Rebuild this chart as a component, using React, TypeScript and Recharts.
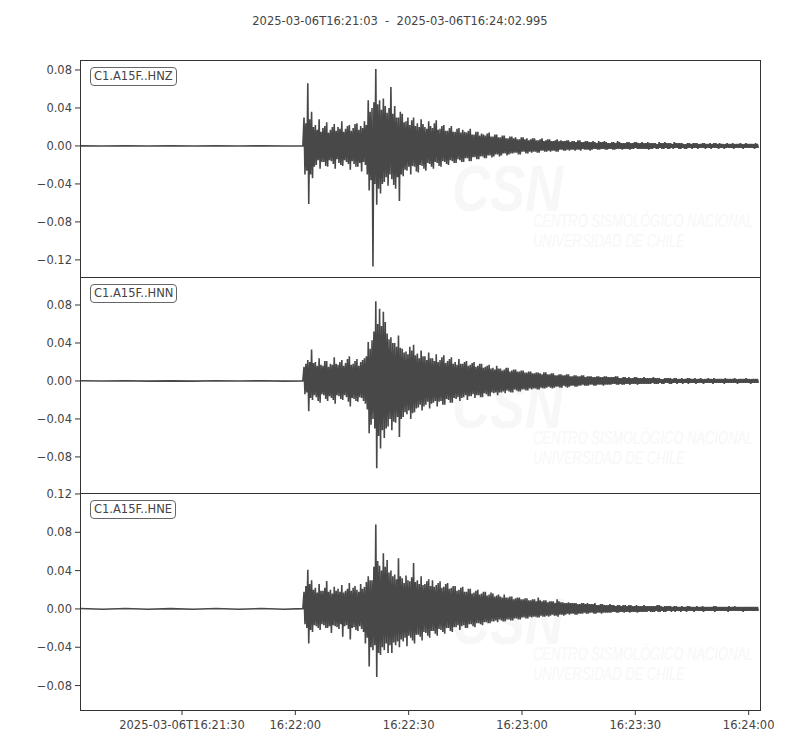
import { Line, LineChart, XAxis, YAxis } from "recharts"

// seconds after 2025-03-06T16:21:03
const xTicks = [27, 57, 87, 117, 147, 177]
const xTickLabels = ["2025-03-06T16:21:30", "16:22:00", "16:22:30", "16:23:00", "16:23:30", "16:24:00"]

const preTimes = [0, 6, 12, 18, 24, 30, 36, 42, 48, 54, 59]
const onsetSec = 59.3
const sampleStep = 0.5 // one positive and one negative swing per step

const hnzPre = [0.0001, -0.0001, 0.0001, -0.0001, 0.0001, -0.0001, 0.0001, -0.0001, 0.0001, -0.0001, 0.0001]
const hnzUp = [
  0.030, 0.024, 0.066, 0.028, 0.036, 0.020, 0.022, 0.017, 0.028, 0.015, 0.019, 0.021, 0.025, 0.014, 0.017, 0.020, 0.023, 0.016, 0.020, 0.018,
  0.026, 0.015, 0.018, 0.021, 0.022, 0.016, 0.019, 0.023, 0.024, 0.017, 0.021, 0.019, 0.026, 0.022, 0.048, 0.036, 0.040, 0.046, 0.081, 0.044,
  0.048, 0.038, 0.050, 0.042, 0.035, 0.040, 0.062, 0.034, 0.042, 0.030, 0.030, 0.036, 0.034, 0.025, 0.026, 0.030, 0.022, 0.027, 0.030, 0.021,
  0.024, 0.020, 0.028, 0.023, 0.020, 0.018, 0.026, 0.021, 0.019, 0.024, 0.027, 0.017, 0.018, 0.021, 0.022, 0.016, 0.016, 0.019, 0.021, 0.015,
  0.015, 0.018, 0.019, 0.014, 0.017, 0.015, 0.014, 0.016, 0.018, 0.012, 0.012, 0.015, 0.015, 0.011, 0.013, 0.012, 0.011, 0.013, 0.014, 0.010,
  0.010, 0.012, 0.012, 0.009, 0.009, 0.011, 0.011, 0.008, 0.008, 0.010, 0.010, 0.008, 0.009, 0.007, 0.007, 0.009, 0.009, 0.007, 0.008, 0.006,
  0.007, 0.008, 0.008, 0.006, 0.006, 0.007, 0.008, 0.005, 0.006, 0.007, 0.007, 0.005, 0.005, 0.006, 0.007, 0.005, 0.006, 0.005, 0.005, 0.006,
  0.006, 0.004, 0.005, 0.005, 0.004, 0.006, 0.006, 0.004, 0.004, 0.005, 0.005, 0.004, 0.004, 0.005, 0.004, 0.003, 0.005, 0.004, 0.004, 0.005,
  0.004, 0.003, 0.003, 0.004, 0.004, 0.003, 0.005, 0.004, 0.003, 0.003, 0.003, 0.004, 0.004, 0.003, 0.003, 0.004, 0.004, 0.003, 0.003, 0.004,
  0.003, 0.003, 0.004, 0.003, 0.003, 0.003, 0.003, 0.002, 0.004, 0.003, 0.003, 0.004, 0.003, 0.003, 0.003, 0.002, 0.004, 0.003, 0.003, 0.003,
  0.003, 0.002, 0.002, 0.003, 0.003, 0.002, 0.003, 0.003, 0.003, 0.002, 0.002, 0.003, 0.003, 0.002, 0.002, 0.003, 0.002, 0.003, 0.003, 0.002,
  0.003, 0.002, 0.002, 0.002, 0.003, 0.002, 0.002, 0.003, 0.002, 0.002, 0.002, 0.003, 0.002, 0.002, 0.003, 0.002, 0.002, 0.002, 0.002, 0.003,
  0.002,
]
const hnzDown = [
  -0.030, -0.026, -0.061, -0.030, -0.034, -0.022, -0.020, -0.015, -0.024, -0.017, -0.017, -0.021, -0.022, -0.015, -0.016, -0.019, -0.024, -0.014, -0.018, -0.020,
  -0.021, -0.015, -0.017, -0.019, -0.025, -0.016, -0.019, -0.022, -0.022, -0.018, -0.027, -0.017, -0.020, -0.030, -0.047, -0.036, -0.127, -0.040, -0.062, -0.045,
  -0.050, -0.040, -0.038, -0.033, -0.042, -0.030, -0.035, -0.041, -0.045, -0.033, -0.058, -0.030, -0.032, -0.025, -0.026, -0.022, -0.030, -0.021, -0.022, -0.027,
  -0.028, -0.020, -0.021, -0.024, -0.026, -0.018, -0.019, -0.022, -0.024, -0.017, -0.018, -0.021, -0.022, -0.016, -0.017, -0.019, -0.020, -0.015, -0.016, -0.018,
  -0.018, -0.014, -0.015, -0.017, -0.017, -0.013, -0.013, -0.016, -0.016, -0.012, -0.012, -0.014, -0.014, -0.011, -0.011, -0.013, -0.013, -0.010, -0.010, -0.012,
  -0.011, -0.009, -0.009, -0.011, -0.010, -0.008, -0.008, -0.010, -0.009, -0.008, -0.008, -0.007, -0.007, -0.009, -0.009, -0.006, -0.006, -0.008, -0.008, -0.006,
  -0.007, -0.006, -0.006, -0.007, -0.007, -0.005, -0.005, -0.006, -0.006, -0.005, -0.006, -0.005, -0.005, -0.006, -0.006, -0.004, -0.004, -0.005, -0.005, -0.004,
  -0.005, -0.004, -0.004, -0.005, -0.004, -0.004, -0.005, -0.003, -0.004, -0.004, -0.004, -0.005, -0.004, -0.003, -0.003, -0.004, -0.004, -0.003, -0.003, -0.004,
  -0.004, -0.003, -0.003, -0.004, -0.004, -0.003, -0.003, -0.003, -0.004, -0.003, -0.003, -0.003, -0.004, -0.003, -0.003, -0.002, -0.003, -0.003, -0.003, -0.003,
  -0.003, -0.003, -0.004, -0.003, -0.003, -0.002, -0.003, -0.003, -0.002, -0.003, -0.003, -0.002, -0.003, -0.003, -0.002, -0.003, -0.002, -0.002, -0.003, -0.003,
  -0.002, -0.003, -0.003, -0.002, -0.002, -0.003, -0.002, -0.002, -0.003, -0.002, -0.002, -0.002, -0.003, -0.002, -0.002, -0.003, -0.002, -0.002, -0.002, -0.003,
  -0.002, -0.002, -0.003, -0.002, -0.002, -0.002, -0.002, -0.003, -0.002, -0.002, -0.002, -0.002, -0.003, -0.002, -0.002, -0.002, -0.002, -0.002, -0.003, -0.002,
  -0.002,
]

const hnnPre = [0.0002, -0.0001, 0.0002, -0.0002, 0.0001, -0.0002, 0.0002, -0.0001, 0.0002, -0.0002, 0.0001]
const hnnUp = [
  0.015, 0.018, 0.022, 0.020, 0.033, 0.019, 0.020, 0.016, 0.024, 0.017, 0.016, 0.021, 0.021, 0.015, 0.018, 0.017, 0.025, 0.018, 0.017, 0.020,
  0.022, 0.016, 0.019, 0.023, 0.026, 0.017, 0.018, 0.021, 0.023, 0.016, 0.020, 0.022, 0.024, 0.026, 0.041, 0.034, 0.043, 0.052, 0.084, 0.060,
  0.076, 0.058, 0.073, 0.062, 0.050, 0.044, 0.046, 0.040, 0.040, 0.036, 0.048, 0.035, 0.034, 0.030, 0.031, 0.028, 0.036, 0.032, 0.038, 0.027,
  0.029, 0.024, 0.032, 0.026, 0.026, 0.022, 0.030, 0.024, 0.024, 0.021, 0.028, 0.020, 0.022, 0.025, 0.027, 0.019, 0.021, 0.023, 0.025, 0.018,
  0.020, 0.017, 0.023, 0.018, 0.018, 0.020, 0.021, 0.016, 0.017, 0.019, 0.020, 0.015, 0.016, 0.018, 0.018, 0.014, 0.015, 0.016, 0.017, 0.013,
  0.014, 0.012, 0.016, 0.013, 0.013, 0.011, 0.012, 0.014, 0.014, 0.010, 0.011, 0.012, 0.012, 0.010, 0.010, 0.011, 0.011, 0.009, 0.009, 0.010,
  0.010, 0.008, 0.008, 0.009, 0.009, 0.008, 0.007, 0.009, 0.009, 0.007, 0.007, 0.008, 0.008, 0.006, 0.006, 0.007, 0.007, 0.006, 0.006, 0.007,
  0.007, 0.005, 0.005, 0.006, 0.006, 0.005, 0.005, 0.006, 0.006, 0.004, 0.005, 0.005, 0.005, 0.004, 0.004, 0.005, 0.005, 0.004, 0.004, 0.005,
  0.005, 0.004, 0.004, 0.004, 0.004, 0.005, 0.005, 0.003, 0.003, 0.004, 0.004, 0.003, 0.004, 0.003, 0.003, 0.004, 0.004, 0.003, 0.003, 0.003,
  0.004, 0.003, 0.003, 0.003, 0.003, 0.004, 0.003, 0.003, 0.003, 0.002, 0.002, 0.003, 0.003, 0.003, 0.003, 0.002, 0.003, 0.003, 0.002, 0.002,
  0.003, 0.002, 0.002, 0.003, 0.003, 0.002, 0.002, 0.003, 0.002, 0.002, 0.003, 0.002, 0.002, 0.002, 0.003, 0.002, 0.002, 0.003, 0.002, 0.002,
  0.002, 0.002, 0.002, 0.003, 0.002, 0.002, 0.002, 0.002, 0.003, 0.002, 0.002, 0.002, 0.002, 0.002, 0.003, 0.002, 0.002, 0.002, 0.002, 0.002,
  0.002,
]
const hnnDown = [
  -0.014, -0.012, -0.032, -0.018, -0.020, -0.015, -0.017, -0.021, -0.023, -0.014, -0.015, -0.019, -0.021, -0.016, -0.018, -0.020, -0.024, -0.015, -0.016, -0.019,
  -0.020, -0.015, -0.017, -0.022, -0.027, -0.018, -0.019, -0.021, -0.022, -0.017, -0.018, -0.021, -0.024, -0.030, -0.055, -0.046, -0.040, -0.050, -0.092, -0.058,
  -0.071, -0.052, -0.060, -0.050, -0.048, -0.040, -0.052, -0.043, -0.044, -0.038, -0.059, -0.040, -0.038, -0.033, -0.035, -0.031, -0.040, -0.034, -0.033, -0.029,
  -0.028, -0.025, -0.031, -0.027, -0.025, -0.022, -0.029, -0.024, -0.023, -0.021, -0.027, -0.022, -0.021, -0.025, -0.025, -0.019, -0.020, -0.023, -0.023, -0.018,
  -0.019, -0.017, -0.021, -0.018, -0.017, -0.015, -0.020, -0.016, -0.016, -0.014, -0.018, -0.015, -0.015, -0.017, -0.017, -0.013, -0.014, -0.016, -0.016, -0.012,
  -0.013, -0.012, -0.015, -0.012, -0.012, -0.011, -0.013, -0.010, -0.011, -0.012, -0.012, -0.009, -0.010, -0.011, -0.011, -0.009, -0.009, -0.010, -0.010, -0.008,
  -0.009, -0.008, -0.008, -0.009, -0.009, -0.007, -0.008, -0.008, -0.007, -0.006, -0.007, -0.008, -0.007, -0.006, -0.006, -0.007, -0.007, -0.005, -0.006, -0.007,
  -0.006, -0.005, -0.005, -0.006, -0.006, -0.005, -0.005, -0.004, -0.005, -0.005, -0.005, -0.004, -0.004, -0.005, -0.005, -0.004, -0.004, -0.004, -0.005, -0.004,
  -0.004, -0.004, -0.004, -0.003, -0.003, -0.004, -0.004, -0.003, -0.004, -0.004, -0.003, -0.003, -0.004, -0.003, -0.003, -0.003, -0.004, -0.003, -0.003, -0.003,
  -0.003, -0.003, -0.003, -0.003, -0.002, -0.003, -0.003, -0.003, -0.002, -0.003, -0.003, -0.002, -0.002, -0.003, -0.003, -0.002, -0.002, -0.003, -0.002, -0.002,
  -0.003, -0.002, -0.002, -0.003, -0.002, -0.002, -0.002, -0.003, -0.002, -0.002, -0.002, -0.003, -0.002, -0.002, -0.002, -0.002, -0.003, -0.002, -0.002, -0.002,
  -0.002, -0.002, -0.003, -0.002, -0.002, -0.002, -0.002, -0.002, -0.002, -0.003, -0.002, -0.002, -0.002, -0.002, -0.002, -0.002, -0.003, -0.002, -0.002, -0.002,
  -0.002,
]

const hnePre = [0.0004, -0.0003, 0.0004, -0.0004, 0.0003, -0.0004, 0.0004, -0.0003, 0.0004, -0.0004, 0.0003]
const hneUp = [
  0.018, 0.024, 0.041, 0.026, 0.030, 0.020, 0.022, 0.017, 0.026, 0.019, 0.019, 0.022, 0.029, 0.018, 0.020, 0.016, 0.023, 0.019, 0.021, 0.018,
  0.025, 0.017, 0.019, 0.021, 0.027, 0.019, 0.022, 0.024, 0.020, 0.018, 0.026, 0.021, 0.023, 0.028, 0.034, 0.030, 0.030, 0.044, 0.088, 0.050,
  0.045, 0.040, 0.058, 0.044, 0.051, 0.038, 0.040, 0.034, 0.036, 0.031, 0.053, 0.034, 0.032, 0.027, 0.035, 0.030, 0.029, 0.033, 0.048, 0.028,
  0.030, 0.026, 0.034, 0.025, 0.026, 0.029, 0.031, 0.024, 0.030, 0.023, 0.025, 0.027, 0.029, 0.022, 0.023, 0.026, 0.027, 0.021, 0.022, 0.024,
  0.024, 0.019, 0.020, 0.022, 0.023, 0.018, 0.018, 0.021, 0.021, 0.016, 0.017, 0.019, 0.020, 0.015, 0.016, 0.018, 0.018, 0.014, 0.015, 0.017,
  0.016, 0.013, 0.014, 0.015, 0.013, 0.012, 0.015, 0.012, 0.012, 0.013, 0.013, 0.010, 0.011, 0.012, 0.012, 0.010, 0.010, 0.011, 0.011, 0.009,
  0.009, 0.010, 0.010, 0.008, 0.012, 0.009, 0.008, 0.009, 0.009, 0.007, 0.008, 0.008, 0.008, 0.006, 0.010, 0.008, 0.007, 0.007, 0.006, 0.006,
  0.007, 0.006, 0.006, 0.006, 0.006, 0.005, 0.005, 0.006, 0.006, 0.005, 0.006, 0.005, 0.005, 0.005, 0.006, 0.004, 0.004, 0.005, 0.005, 0.004,
  0.004, 0.004, 0.005, 0.004, 0.004, 0.003, 0.004, 0.004, 0.003, 0.004, 0.004, 0.003, 0.004, 0.004, 0.003, 0.003, 0.004, 0.003, 0.003, 0.003,
  0.004, 0.003, 0.003, 0.003, 0.003, 0.003, 0.003, 0.004, 0.004, 0.003, 0.002, 0.003, 0.003, 0.003, 0.003, 0.002, 0.003, 0.003, 0.002, 0.002,
  0.003, 0.002, 0.002, 0.003, 0.003, 0.002, 0.002, 0.002, 0.003, 0.002, 0.002, 0.003, 0.002, 0.002, 0.002, 0.002, 0.002, 0.003, 0.003, 0.002,
  0.002, 0.002, 0.002, 0.002, 0.002, 0.003, 0.002, 0.002, 0.003, 0.002, 0.002, 0.002, 0.002, 0.002, 0.002, 0.002, 0.002, 0.002, 0.002, 0.002,
  0.002,
]
const hneDown = [
  -0.016, -0.020, -0.036, -0.022, -0.024, -0.017, -0.018, -0.020, -0.022, -0.016, -0.017, -0.020, -0.020, -0.018, -0.025, -0.017, -0.018, -0.019, -0.021, -0.016,
  -0.029, -0.018, -0.017, -0.021, -0.032, -0.020, -0.019, -0.022, -0.023, -0.018, -0.021, -0.024, -0.036, -0.030, -0.060, -0.040, -0.043, -0.038, -0.071, -0.046,
  -0.048, -0.040, -0.043, -0.036, -0.046, -0.038, -0.046, -0.035, -0.038, -0.034, -0.040, -0.032, -0.034, -0.030, -0.039, -0.028, -0.030, -0.033, -0.036, -0.027,
  -0.027, -0.029, -0.033, -0.024, -0.025, -0.028, -0.030, -0.023, -0.023, -0.026, -0.028, -0.021, -0.022, -0.024, -0.026, -0.020, -0.020, -0.023, -0.024, -0.019,
  -0.019, -0.017, -0.022, -0.018, -0.017, -0.020, -0.020, -0.016, -0.016, -0.018, -0.019, -0.015, -0.015, -0.016, -0.017, -0.014, -0.014, -0.015, -0.015, -0.013,
  -0.013, -0.012, -0.014, -0.011, -0.012, -0.013, -0.013, -0.011, -0.011, -0.012, -0.012, -0.010, -0.010, -0.011, -0.011, -0.009, -0.009, -0.010, -0.010, -0.008,
  -0.009, -0.008, -0.008, -0.009, -0.009, -0.007, -0.008, -0.008, -0.007, -0.008, -0.007, -0.006, -0.007, -0.007, -0.008, -0.006, -0.006, -0.007, -0.006, -0.005,
  -0.006, -0.005, -0.005, -0.006, -0.006, -0.005, -0.005, -0.005, -0.004, -0.005, -0.005, -0.004, -0.004, -0.005, -0.005, -0.004, -0.004, -0.005, -0.004, -0.004,
  -0.004, -0.004, -0.004, -0.003, -0.003, -0.004, -0.004, -0.003, -0.003, -0.004, -0.003, -0.003, -0.004, -0.003, -0.003, -0.003, -0.004, -0.003, -0.003, -0.003,
  -0.003, -0.003, -0.002, -0.003, -0.003, -0.003, -0.002, -0.003, -0.003, -0.002, -0.003, -0.003, -0.002, -0.002, -0.003, -0.002, -0.003, -0.002, -0.002, -0.003,
  -0.002, -0.002, -0.003, -0.002, -0.002, -0.002, -0.003, -0.002, -0.002, -0.002, -0.002, -0.003, -0.002, -0.002, -0.002, -0.002, -0.002, -0.003, -0.002, -0.002,
  -0.002, -0.002, -0.002, -0.002, -0.003, -0.002, -0.002, -0.002, -0.002, -0.002, -0.002, -0.002, -0.003, -0.002, -0.002, -0.002, -0.002, -0.002, -0.002, -0.002,
  -0.002,
]

const FONT = "'DejaVu Sans', sans-serif"
const INK = "#444444"
const TRACE = "#484848"
const PAD = 10

function buildTrace(pre: number[], up: number[], down: number[]) {
  const pts = preTimes.map((t, k) => ({ t, v: pre[k] }))
  up.forEach((u, i) => {
    const t = onsetSec + i * sampleStep
    pts.push({ t, v: u })
    pts.push({ t: t + sampleStep / 2, v: down[i] })
  })
  return pts
}

const panels = [
  { label: "C1.A15F..HNZ", top: 60, height: 217, domain: [-0.138, 0.0905], ticks: [-0.12, -0.08, -0.04, 0, 0.04, 0.08], data: buildTrace(hnzPre, hnzUp, hnzDown) },
  { label: "C1.A15F..HNN", top: 277, height: 216, domain: [-0.118, 0.1095], ticks: [-0.08, -0.04, 0, 0.04, 0.08], data: buildTrace(hnnPre, hnnUp, hnnDown) },
  { label: "C1.A15F..HNE", top: 493, height: 217, domain: [-0.1055, 0.121], ticks: [-0.08, -0.04, 0, 0.04, 0.08, 0.12], data: buildTrace(hnePre, hneUp, hneDown) },
]

const fmtY = (v: number) => (v < 0 ? "\u2212" : "") + Math.abs(v).toFixed(2)
const fmtX = (v: number) => xTickLabels[xTicks.indexOf(v)] ?? ""

function Watermark({ top }: { top: number }) {
  const c = "#f7f7f7"
  return (
    <>
      <div style={{ position: "absolute", left: 452, top: top + 92, fontSize: 64, fontWeight: 700, fontStyle: "italic", color: c, fontFamily: "'Liberation Sans', sans-serif", transform: "scaleX(0.82)", transformOrigin: "left top" }}>
        CSN
      </div>
      <div style={{ position: "absolute", left: 533, top: top + 151, fontSize: 18, fontStyle: "italic", color: c, fontFamily: "'Liberation Sans', sans-serif", lineHeight: "20px", whiteSpace: "nowrap", transform: "scaleX(0.72)", transformOrigin: "left top" }}>
        CENTRO SISMOLÓGICO NACIONAL
        <br />
        UNIVERSIDAD DE CHILE
      </div>
    </>
  )
}

function Panel({ p, last }: { p: (typeof panels)[number]; last: boolean }) {
  const axisH = last ? 34 : 0
  return (
    <>
      <Watermark top={p.top} />
      <div style={{ position: "absolute", left: 0, top: p.top - PAD }}>
        <LineChart width={800} height={p.height + axisH + PAD * 2} data={p.data} margin={{ top: PAD, right: 40, bottom: PAD, left: 0 }}>
          <XAxis
            type="number"
            dataKey="t"
            domain={[0, 180]}
            ticks={xTicks}
            tickFormatter={fmtX}
            hide={!last}
            height={axisH}
            axisLine={false}
            tickLine={{ stroke: "#333" }}
            tickSize={5}
            tickMargin={6}
            tick={{ fill: INK, fontSize: 11.5, fontFamily: FONT }}
            interval={0}
            allowDataOverflow
          />
          <YAxis
            type="number"
            domain={p.domain}
            ticks={p.ticks}
            tickFormatter={fmtY}
            width={80}
            axisLine={false}
            tickLine={{ stroke: "#333" }}
            tickSize={5}
            tickMargin={3}
            tick={{ fill: INK, fontSize: 11.5, fontFamily: FONT }}
            interval={0}
            allowDataOverflow
          />
          <Line type="linear" dataKey="v" stroke={TRACE} strokeWidth={1.6} dot={false} activeDot={false} isAnimationActive={false} />
        </LineChart>
      </div>
      <div style={{ position: "absolute", left: 80, top: p.top, width: 681, height: p.height + 1, boxSizing: "border-box", border: "1px solid #333", pointerEvents: "none" }} />
      <div style={{ position: "absolute", left: 90, top: p.top + 7, height: 19, boxSizing: "border-box", padding: "0 3px", border: "1px solid #666", borderRadius: 4, background: "#fff", fontFamily: FONT, fontSize: 11.5, lineHeight: "17px", color: INK, whiteSpace: "nowrap" }}>
        {p.label}
      </div>
    </>
  )
}

export default function App() {
  return (
    <div style={{ position: "absolute", left: 0, top: 0, width: 800, height: 750, background: "#fff", overflow: "hidden" }}>
      <div style={{ position: "absolute", left: 0, top: 14, width: 800, textAlign: "center", fontFamily: FONT, fontSize: 11.5, color: INK, whiteSpace: "pre" }}>
        {"2025-03-06T16:21:03  -  2025-03-06T16:24:02.995"}
      </div>
      {panels.map((p, i) => (
        <Panel key={p.label} p={p} last={i === panels.length - 1} />
      ))}
    </div>
  )
}
